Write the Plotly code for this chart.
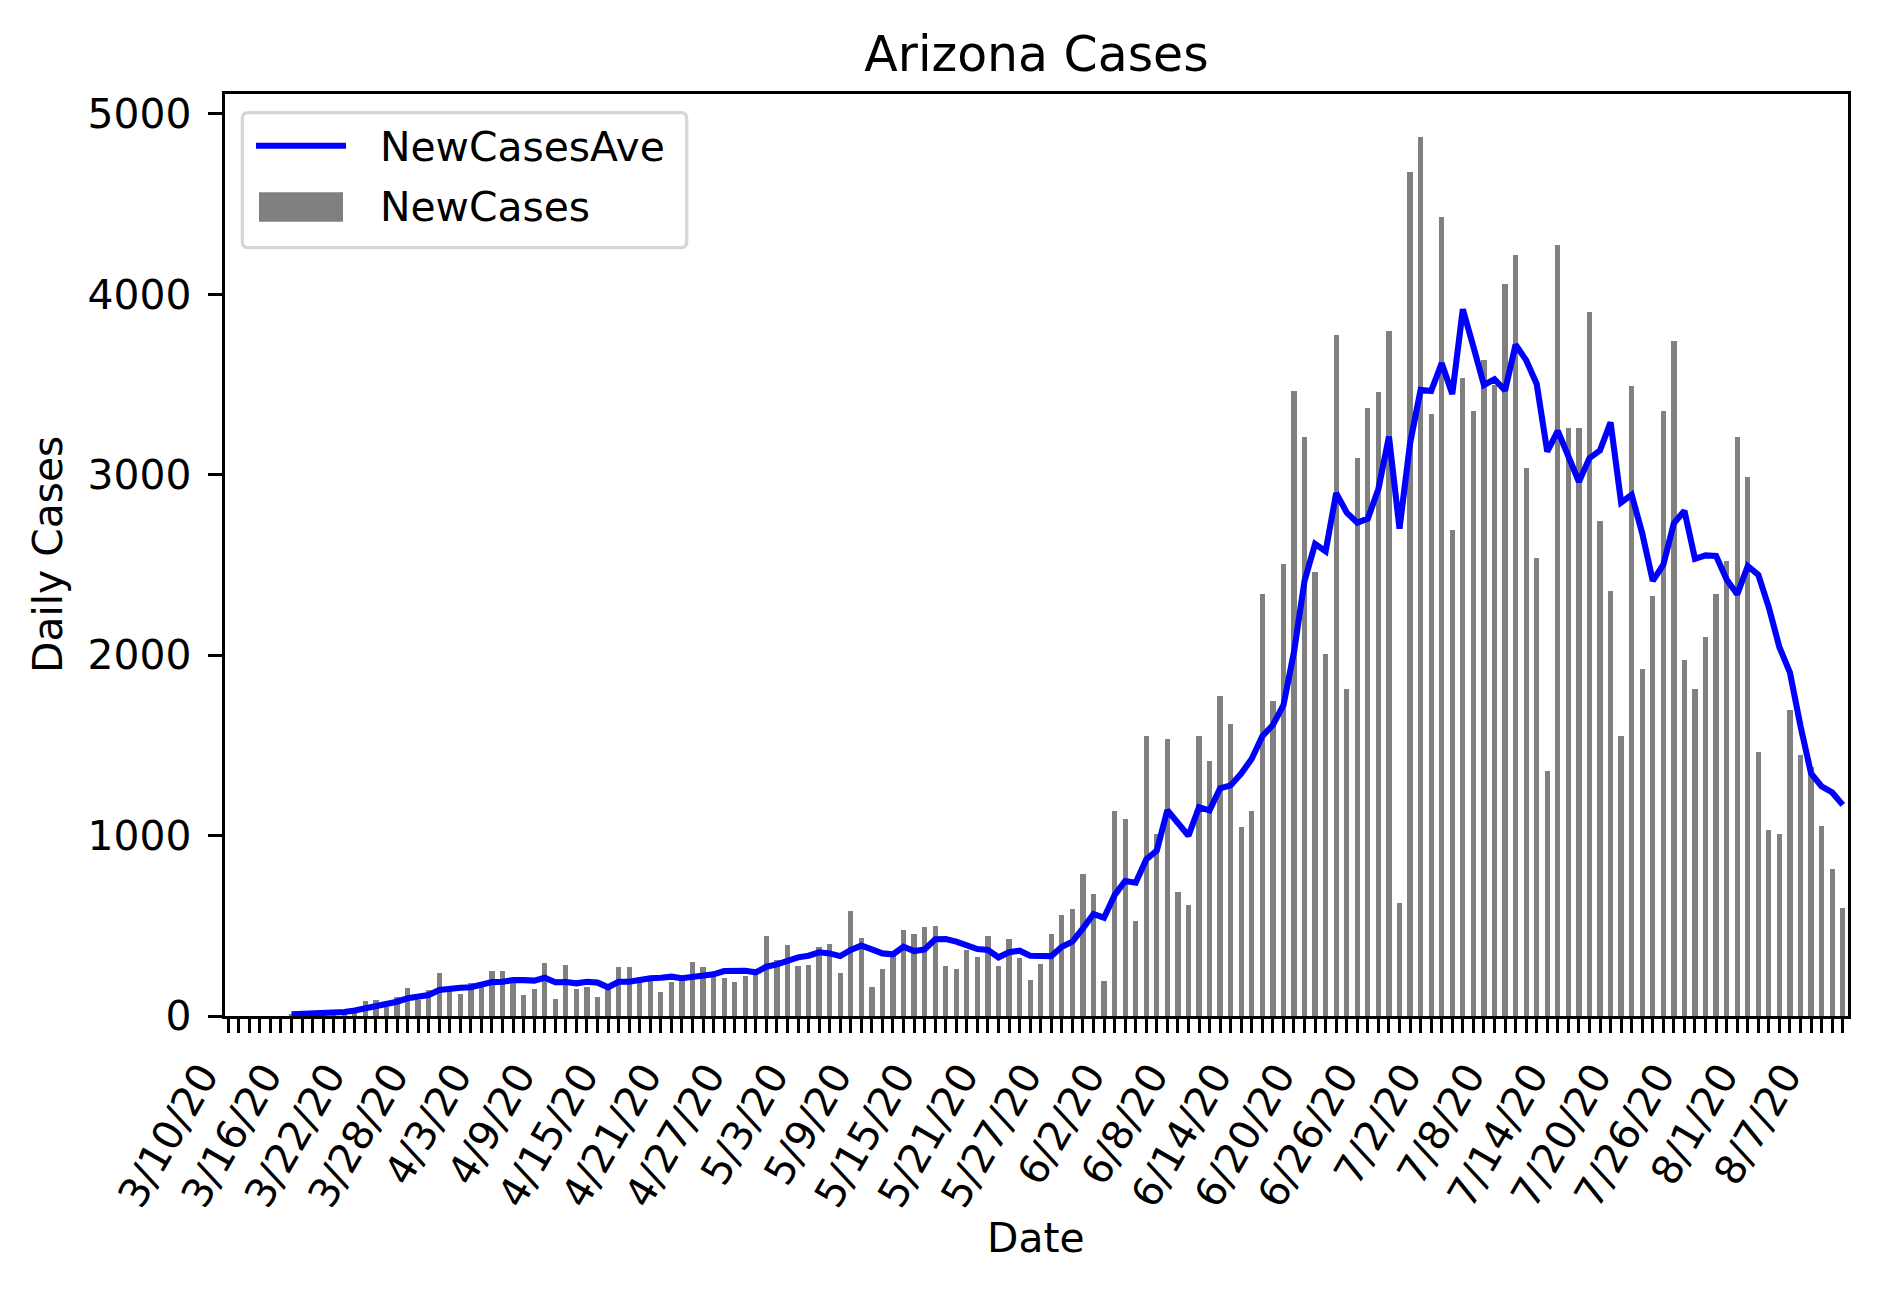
import pandas as pd
import plotly.graph_objects as go

start_date = "2020-03-10"
n_days = 154
dates = [f"{d.month}/{d.day}/{d.strftime('%y')}" for d in pd.date_range(start_date, periods=n_days, freq="D")]

new_cases = [
    0, 0, 0, 0, 0, 0, 10, 9, 12, 15, 20, 25, 40, 83, 89, 50, 107, 157, 89, 144,
    236, 144, 122, 181, 163, 249, 249, 195, 116, 150, 292, 94, 283, 150, 159, 107, 165, 270, 270, 218,
    209, 133, 187, 200, 299, 273, 218, 210, 190, 220, 236, 443, 310, 393, 279, 283, 384, 399, 240, 582,
    430, 163, 260, 350, 476, 454, 493, 499, 279, 260, 366, 329, 443, 279, 427, 323, 199, 288, 454, 560,
    591, 787, 676, 194, 1136, 1090, 526, 1551, 1009, 1535, 687, 615, 1554, 1416, 1771, 1617, 1048, 1137, 2340, 1748,
    2504, 3464, 3211, 2461, 2005, 3776, 1811, 3092, 3372, 3460, 3796, 624, 4680, 4873, 3336, 4427, 2691, 3536, 3355, 3635,
    3497, 4055, 4216, 3036, 2537, 1357, 4272, 3257, 3257, 3904, 2741, 2353, 1554, 3493, 1922, 2330, 3355, 3740, 1972, 1811,
    2103, 2340, 2521, 3207, 2990, 1462, 1029, 1006, 1696, 1449, 1380, 1052, 812, 598,
]

new_cases_ave = [
    None, None, None, None, None, None, 9, 11, 13, 15, 18, 22, 30, 42, 55, 65, 79, 98, 107, 116,
    144, 153, 157, 159, 172, 188, 190, 199, 199, 196, 212, 187, 188, 181, 190, 185, 159, 190, 190, 203,
    209, 212, 218, 209, 214, 223, 231, 249, 251, 251, 242, 273, 286, 310, 325, 334, 353, 347, 332, 366,
    390, 369, 347, 342, 384, 360, 369, 425, 427, 412, 390, 371, 366, 325, 353, 362, 334, 329, 332, 384,
    412, 486, 565, 545, 670, 748, 739, 868, 917, 1140, 1071, 999, 1157, 1140, 1262, 1278, 1344, 1426, 1551, 1613,
    1722, 2018, 2412, 2616, 2576, 2898, 2790, 2734, 2757, 2921, 3211, 2701, 3174, 3470, 3464, 3618, 3447, 3917, 3710, 3497,
    3529, 3467, 3720, 3635, 3503, 3128, 3243, 3109, 2961, 3092, 3135, 3290, 2846, 2889, 2675, 2412, 2501, 2731, 2800, 2534,
    2553, 2550, 2419, 2337, 2494, 2445, 2264, 2044, 1903, 1607, 1344, 1272, 1239, 1170,
]

y_ticks = [0, 1000, 2000, 3000, 4000, 5000]
label_every = 6

x_pos = list(range(len(dates)))
tick_text = [d if i % label_every == 0 else "" for i, d in enumerate(dates)]

FONT = "DejaVu Sans"
FS = 40.8
TITLE_FS = 48.9
BAR_COLOR = "#808080"
LINE_COLOR = "#0000ff"
LINE_W = 6.1
SPINE_W = 3.3
TICK_LEN = 14.3

# page layout (browser page pixels); the page body has an 8px margin
OFF = 8
FIG_W, FIG_H = 1879 - 2 * OFF, 1291 - 2 * OFF
PL, PR, PT, PB = 225, 1848, 94, 1016


def px(x):
    return (x - PL) / (PR - PL)


def py(y):
    return (PB - y) / (PB - PT)


fig = go.Figure()
fig.add_trace(go.Bar(
    x=x_pos, y=new_cases, name="NewCases", width=0.5,
    marker=dict(color=BAR_COLOR, line=dict(width=0)),
    showlegend=False,
))
fig.add_trace(go.Scatter(
    x=x_pos, y=new_cases_ave, name="NewCasesAve", mode="lines",
    line=dict(color=LINE_COLOR, width=LINE_W),
    showlegend=False,
))

fig.update_layout(
    width=FIG_W, height=FIG_H,
    margin=dict(l=PL - OFF, r=FIG_W - (PR - OFF), t=PT - OFF, b=FIG_H - (PB - OFF)),
    paper_bgcolor="white", plot_bgcolor="white",
    font=dict(family=FONT, size=FS, color="black"),
    title=dict(
        text="Arizona Cases", x=0.5, xref="paper", y=1 - (54 - OFF) / FIG_H, yref="container",
        xanchor="center", yanchor="middle",
        font=dict(family=FONT, size=TITLE_FS, color="black"),
    ),
    bargap=0,
)

fig.update_xaxes(
    range=[-0.3, len(dates) - 0.5],
    tickmode="array", tickvals=x_pos, ticktext=tick_text,
    tickangle=-60, ticks="outside", ticklen=TICK_LEN, tickwidth=SPINE_W, tickcolor="black",
    ticklabelshift=-26, ticklabelstandoff=2,
    showline=True, linecolor="black", linewidth=SPINE_W, mirror=True,
    showgrid=False, zeroline=False,
    tickfont=dict(family=FONT, size=FS, color="black"),
)
fig.update_yaxes(
    range=[0, 5110],
    tickmode="array", tickvals=y_ticks, tickformat="d",
    ticks="outside", ticklen=TICK_LEN, tickwidth=SPINE_W, tickcolor="black",
    ticklabelstandoff=8,
    showline=True, linecolor="black", linewidth=SPINE_W, mirror=True,
    showgrid=False, zeroline=False,
    tickfont=dict(family=FONT, size=FS, color="black"),
)

# axis titles
fig.add_annotation(
    text="Date", xref="paper", yref="paper", x=px(1036), y=py(1238),
    xanchor="center", yanchor="middle", showarrow=False,
    font=dict(family=FONT, size=FS, color="black"),
)
fig.add_annotation(
    text="Daily Cases", xref="paper", yref="paper", x=px(48), y=py(555),
    xanchor="center", yanchor="middle", textangle=-90, showarrow=False,
    font=dict(family=FONT, size=FS, color="black"),
)

# legend (matplotlib-style frame)
bx0, bx1, by0, by1, r = 242.3, 686.7, 112.7, 247.7, 6
rx, ry = r / (PR - PL), r / (PB - PT)
X0, X1, Y0, Y1 = px(bx0), px(bx1), py(by1), py(by0)
path = (
    f"M {X0 + rx},{Y0} L {X1 - rx},{Y0} Q {X1},{Y0} {X1},{Y0 + ry} "
    f"L {X1},{Y1 - ry} Q {X1},{Y1} {X1 - rx},{Y1} "
    f"L {X0 + rx},{Y1} Q {X0},{Y1} {X0},{Y1 - ry} "
    f"L {X0},{Y0 + ry} Q {X0},{Y0} {X0 + rx},{Y0} Z"
)
fig.add_shape(type="path", path=path, xref="paper", yref="paper",
              line=dict(color="#d6d6d6", width=SPINE_W), fillcolor="white", layer="above")
fig.add_shape(type="line", xref="paper", yref="paper",
              x0=px(256), x1=px(346), y0=py(145.7), y1=py(145.7),
              line=dict(color=LINE_COLOR, width=LINE_W), layer="above")
fig.add_shape(type="rect", xref="paper", yref="paper",
              x0=px(259), x1=px(343), y0=py(221.7), y1=py(192.3),
              line=dict(width=0), fillcolor=BAR_COLOR, layer="above")
for name, yc in [("NewCasesAve", 146.7), ("NewCases", 207.0)]:
    fig.add_annotation(
        text=name, xref="paper", yref="paper", x=px(377.7), y=py(yc),
        xanchor="left", yanchor="middle", showarrow=False,
        font=dict(family=FONT, size=FS, color="black"),
    )

fig.write_html("out.html")
